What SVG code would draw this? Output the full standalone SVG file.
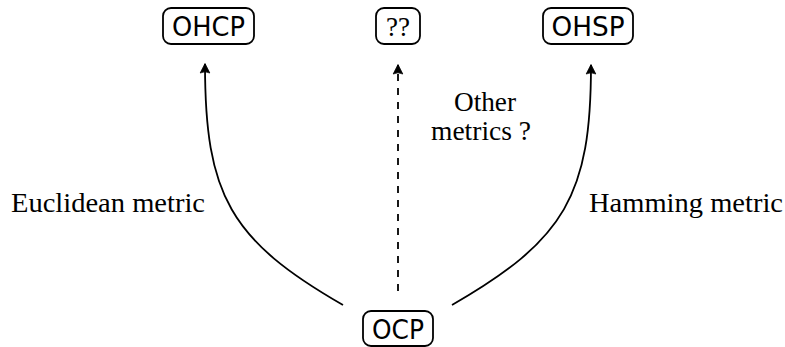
<svg xmlns="http://www.w3.org/2000/svg" width="785" height="347" viewBox="0 0 785 347">
<defs>
<marker id="ah" viewBox="-12 -6 13 12" refX="0" refY="0" markerWidth="13" markerHeight="12" markerUnits="userSpaceOnUse" orient="auto">
<path d="M0.5,0 L-9,-4.8 Q-6.5,0 -9,4.8 Z" fill="#000" stroke="#000" stroke-width="0.8" stroke-linejoin="round"/>
</marker>
<style>
.box{fill:#fff;stroke:#000;stroke-width:1.8}
.nt{font-family:"DejaVu Sans","Liberation Sans",sans-serif;font-size:26px;fill:#000;text-anchor:middle}
.lbl{font-family:"Liberation Serif","DejaVu Serif",serif;font-size:27px;fill:#000}
.edge{fill:none;stroke:#000;stroke-width:1.8;marker-end:url(#ah)}
</style>
</defs>
<rect width="785" height="347" fill="#fff"/>
<g id="connectors">
<path class="edge" d="M343,305 C230,240 205,195 205,64"/>
<path class="edge" d="M452,305 C565,240 591,195 591,65"/>
<path class="edge" d="M398,291 L398,65" stroke-dasharray="7,7"/>
</g>
<g id="OHCP"><rect class="box" x="163" y="8" width="91" height="36" rx="8"/><text class="nt" x="208.5" y="36" textLength="73" lengthAdjust="spacingAndGlyphs">OHCP</text></g>
<g id="QQ"><rect class="box" x="376" y="8" width="44" height="36" rx="8"/><text class="lbl" x="398" y="36" text-anchor="middle">??</text></g>
<g id="OHSP"><rect class="box" x="543" y="8" width="90" height="36" rx="8"/><text class="nt" x="588" y="36" textLength="73" lengthAdjust="spacingAndGlyphs">OHSP</text></g>
<g id="OCP"><rect class="box" x="363" y="311" width="70" height="35" rx="8"/><text class="nt" x="398" y="339" textLength="52" lengthAdjust="spacingAndGlyphs">OCP</text></g>
<text class="lbl" x="11" y="212" textLength="194" lengthAdjust="spacingAndGlyphs">Euclidean metric</text>
<text class="lbl" x="589" y="212" textLength="194" lengthAdjust="spacingAndGlyphs">Hamming metric</text>
<text class="lbl" x="454" y="111" textLength="62" lengthAdjust="spacingAndGlyphs">Other</text>
<text class="lbl" x="431" y="140" textLength="100" lengthAdjust="spacingAndGlyphs">metrics ?</text>
</svg>
